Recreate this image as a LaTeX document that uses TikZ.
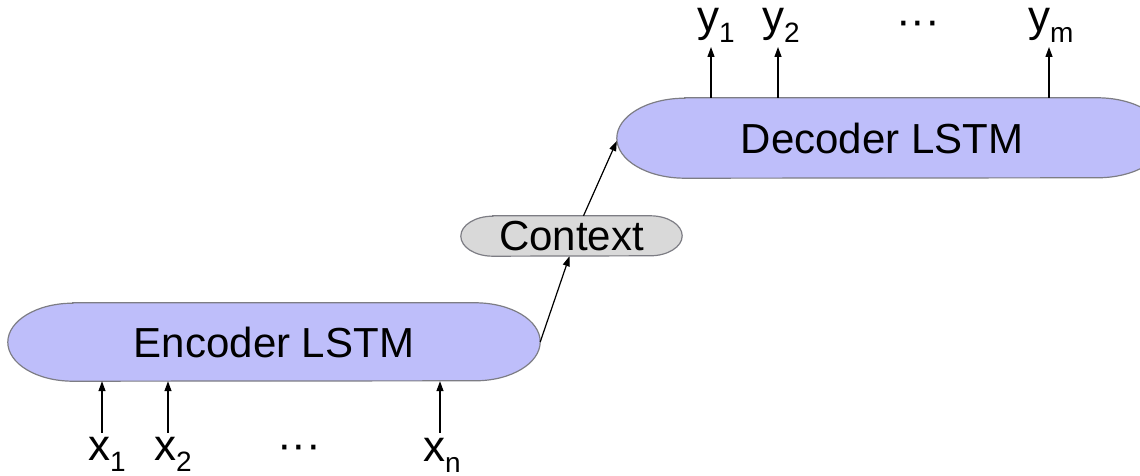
\documentclass[tikz,border=0pt]{standalone}
\usepackage{fontspec}
\setmainfont{Liberation Sans}
\usetikzlibrary{arrows.meta,backgrounds,calc}
\definecolor{pillblue}{RGB}{190,190,250}
\definecolor{ctxgray}{RGB}{217,217,217}
\definecolor{edgegray}{RGB}{125,125,132}
\newcommand\mysub[1]{\raisebox{-11pt}{\fontsize{28}{28}\selectfont #1}}
\newcommand\mypill[4]{% node, rx, ry, fill
  \path[draw=edgegray,line width=1.2pt,fill=#4]
    ([xshift=#2]#1.north west) -- ([xshift=-#2]#1.north east)
    arc[start angle=90,end angle=-90,x radius=#2,y radius=#3]
    -- ([xshift=#2]#1.south west)
    arc[start angle=270,end angle=90,x radius=#2,y radius=#3] -- cycle;}
\tikzset{
  box/.style={inner sep=0pt, font=\fontsize{42}{50}\selectfont},
  lbl/.style={inner sep=0pt, anchor=base west, font=\fontsize{44}{50}\selectfont},
  dots/.style={inner sep=0pt, anchor=base, font=\fontsize{44}{50}\selectfont},
  arr/.style={line width=1.2pt, -{Triangle[length=10pt,width=7pt]}}
}
\begin{document}
\begin{tikzpicture}[x=1pt,y=1pt]
\useasboundingbox (0,0) rectangle (1140,476);
% nodes
\node[box, minimum width=532pt, minimum height=78pt] (enc) at (274,134) {Encoder LSTM};
\node[box, minimum width=548pt, minimum height=80pt] (dec) at (891,338) {Decoder LSTM\hspace*{18pt}};
\node[box, minimum width=221pt, minimum height=40pt] (ctx) at (571.5,240) {Context};
\begin{scope}[on background layer]
  \mypill{enc}{65pt}{39pt}{pillblue}
  \mypill{dec}{68pt}{40pt}{pillblue}
  \mypill{ctx}{32pt}{20pt}{ctxgray}
\end{scope}
% input labels
\node[lbl] (x1) at (88,15) {x\mysub{1}};
\node[lbl] (x2) at (154,15) {x\mysub{2}};
\node[dots] (xd) at (299,16) {\textperiodcentered\textperiodcentered\textperiodcentered};
\node[lbl] (xn) at (423,14) {x\mysub{n}};
% output labels
\node[lbl] (y1) at (697,444) {y\mysub{1}};
\node[lbl] (y2) at (762,444) {y\mysub{2}};
\node[dots] (yd) at (918,440) {\textperiodcentered\textperiodcentered\textperiodcentered};
\node[lbl] (ym) at (1028,444) {y\mysub{m}};
% arrow ends
\coordinate (i1) at (102,43);
\coordinate (i2) at (168,43);
\coordinate (in) at (440,43);
\coordinate (o1) at (711,429);
\coordinate (o2) at (778,429);
\coordinate (om) at (1049,429);
\draw[arr] (i1) -- (i1 |- enc.south);
\draw[arr] (i2) -- (i2 |- enc.south);
\draw[arr] (in) -- (in |- enc.south);
\draw[arr] (o1 |- dec.north) -- (o1);
\draw[arr] (o2 |- dec.north) -- (o2);
\draw[arr] (om |- dec.north) -- (om);
\draw[arr] (enc.east) -- ([xshift=-2pt]ctx.south);
\draw[arr] ([xshift=12pt]ctx.north) -- ([yshift=-3pt]dec.west);
\end{tikzpicture}
\end{document}
